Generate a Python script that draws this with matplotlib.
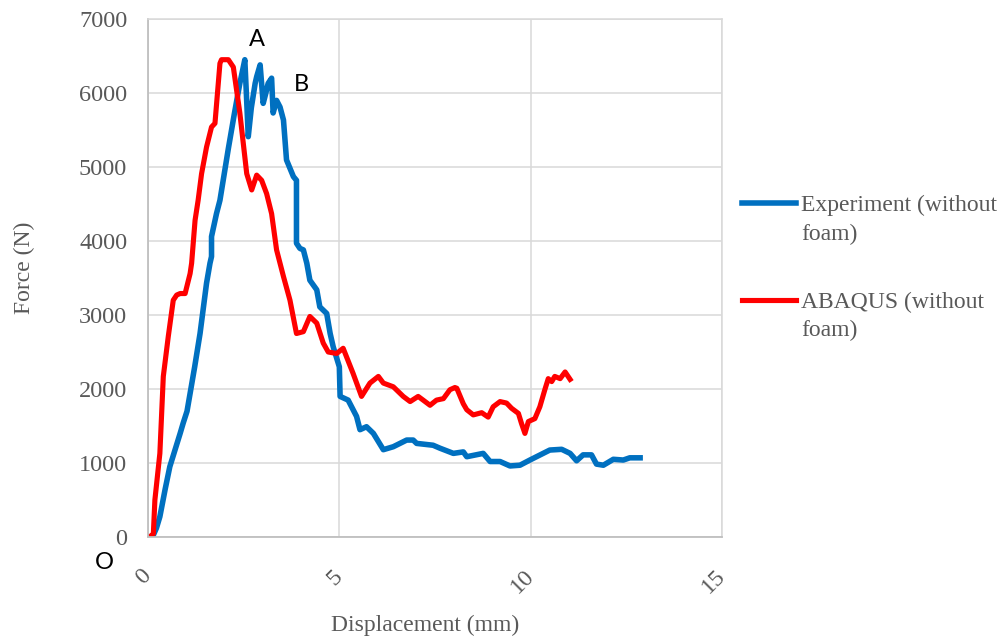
import numpy as np
import matplotlib.pyplot as plt
from matplotlib.legend_handler import HandlerLine2D

# Experiment (without foam) - displacement (mm), force (N)
exp_x = [0, 0.08, 0.14, 0.22, 0.31, 0.45, 0.57, 0.72, 0.84, 0.92,
         1.02, 1.10, 1.22, 1.36, 1.53, 1.62, 1.66, 1.66, 1.79, 1.88,
         2.10, 2.25, 2.40, 2.47, 2.53, 2.57, 2.62, 2.70, 2.80, 2.84,
         2.93, 3.01, 3.08, 3.14, 3.23, 3.27, 3.36, 3.45, 3.54, 3.62,
         3.80, 3.88, 3.88, 3.97, 4.06, 4.15, 4.23, 4.41, 4.49, 4.67,
         4.76, 4.84, 5.00, 5.02, 5.23, 5.45, 5.54, 5.71, 5.89, 6.15,
         6.41, 6.76, 6.93, 7.02, 7.45, 7.63, 7.98, 8.24, 8.33, 8.76,
         8.94, 9.20, 9.46, 9.72, 9.98, 10.50, 10.81, 11.03, 11.20, 11.37,
         11.59, 11.72, 11.90, 12.16, 12.42, 12.59, 12.86]
exp_y = [0, 0, 27, 120, 275, 650, 950, 1200, 1400, 1540,
         1700, 1940, 2300, 2750, 3430, 3700, 3790, 4060, 4370, 4550,
         5250, 5700, 6130, 6300, 6450, 6000, 5410, 5800, 6130, 6220,
         6380, 5860, 6000, 6130, 6200, 5730, 5900, 5810, 5635, 5095,
         4870, 4820, 3970, 3900, 3880, 3700, 3470, 3340, 3110, 3020,
         2750, 2570, 2300, 1900, 1850, 1630, 1450, 1490, 1400, 1180,
         1220, 1310, 1310, 1265, 1240, 1200, 1130, 1150, 1085, 1130,
         1020, 1020, 960, 970, 1040, 1175, 1185, 1130, 1030, 1110,
         1110, 985, 970, 1050, 1040, 1070, 1070]

# ABAQUS (without foam)
fem_x = [0, 0.10, 0.14, 0.18, 0.31, 0.40, 0.53, 0.66, 0.75, 0.84,
         0.97, 1.10, 1.14, 1.23, 1.31, 1.40, 1.53, 1.66, 1.75, 1.88,
         1.92, 2.10, 2.23, 2.40, 2.58, 2.71, 2.84, 2.97, 3.10, 3.23,
         3.36, 3.54, 3.71, 3.88, 4.06, 4.23, 4.41, 4.58, 4.71, 4.93,
         5.10, 5.36, 5.58, 5.80, 6.02, 6.15, 6.41, 6.67, 6.85, 7.06,
         7.19, 7.37, 7.54, 7.72, 7.89, 8.02, 8.07, 8.24, 8.33, 8.50,
         8.72, 8.89, 9.02, 9.20, 9.37, 9.50, 9.68, 9.76, 9.85, 9.94,
         10.11, 10.24, 10.37, 10.46, 10.55, 10.63, 10.77, 10.90, 11.03]
fem_y = [0, 20, 45, 500, 1130, 2170, 2710, 3200, 3270, 3290,
         3290, 3560, 3700, 4280, 4550, 4910, 5270, 5540, 5590, 6400,
         6450, 6450, 6350, 5730, 4910, 4690, 4890, 4820, 4640, 4370,
         3880, 3520, 3200, 2750, 2775, 2980, 2890, 2620, 2500, 2480,
         2550, 2210, 1900, 2080, 2170, 2080, 2030, 1900, 1830, 1900,
         1850, 1780, 1850, 1870, 1990, 2020, 2010, 1800, 1720, 1650,
         1680, 1620, 1760, 1830, 1810, 1740, 1670, 1535, 1400, 1560,
         1600, 1760, 1990, 2140, 2100, 2170, 2140, 2230, 2130]

x_ticks = [0, 5, 10, 15]
y_ticks = [0, 1000, 2000, 3000, 4000, 5000, 6000, 7000]
point_labels = ['A', 'B', 'O']
point_pos = [(2.85, 6720), (4.02, 6120), (-1.15, -350)]

grey = '#595959'
serif = 'Liberation Serif'


class FirstLineHandler(HandlerLine2D):
    # put the legend line level with the first line of a two-line label
    def create_artists(self, legend, orig_handle, xdescent, ydescent,
                       width, height, fontsize, trans):
        arts = super().create_artists(legend, orig_handle, xdescent, ydescent,
                                      width, height, fontsize, trans)
        for a in arts:
            yd = np.asarray(a.get_ydata(), dtype=float)
            a.set_ydata(yd + 0.70 * fontsize)
        return arts


fig = plt.figure(figsize=(10.06, 6.36), dpi=100)
ax = fig.add_axes([148 / 1006, 1 - 537 / 636, 574 / 1006, 518 / 636])

ax.plot(exp_x, exp_y, color='#0070C0', lw=4.0, solid_joinstyle='round',
        label='Experiment (without\nfoam)')
ax.plot(fem_x, fem_y, color='#FF0000', lw=3.7, solid_joinstyle='round',
        label='ABAQUS (without\nfoam)')

ax.set_xlim(0, 15)
ax.set_ylim(0, 7000)
ax.set_xticks(x_ticks)
ax.set_yticks(y_ticks)
ax.set_xticklabels([str(v) for v in x_ticks], rotation=45, ha='right', va='center',
                   rotation_mode='anchor', family=serif, fontsize=17.5, color=grey)
ax.set_yticklabels([str(v) for v in y_ticks], family=serif, fontsize=17.5, color=grey)
ax.tick_params(axis='both', length=0)
ax.tick_params(axis='x', pad=26)
ax.tick_params(axis='y', pad=15)

ax.grid(True, color='#D9D9D9', lw=1.1)
ax.set_axisbelow(True)
for s in ['top', 'right']:
    ax.spines[s].set_color('#D9D9D9')
    ax.spines[s].set_linewidth(1.1)
for s in ['left', 'bottom']:
    ax.spines[s].set_color('#BFBFBF')
    ax.spines[s].set_linewidth(1.3)

ax.set_xlabel('Displacement (mm)', family=serif, fontsize=17, color=grey,
              va='center', ha='center')
ax.set_ylabel('Force (N)', family=serif, fontsize=17, color=grey,
              va='center', ha='center')
ax.xaxis.set_label_coords(0.483, -0.17)
ax.yaxis.set_label_coords(-0.215, 0.52)

for lab, (px, py) in zip(point_labels, point_pos):
    ax.text(px, py, lab, family='Lato', fontsize=17, ha='center', va='center',
            color='black', clip_on=False)

leg = ax.legend(loc='upper left', bbox_to_anchor=(742 / 1006, 1 - 195 / 636),
                bbox_transform=fig.transFigure, frameon=False,
                prop={'family': serif, 'size': 17}, labelcolor=grey,
                handlelength=2.3, handletextpad=0.2, labelspacing=2.0,
                borderpad=0, borderaxespad=0,
                handler_map={plt.Line2D: FirstLineHandler()})
for t in leg.get_texts():
    t.set_linespacing(1.45)

fig.savefig('out.png', dpi=100)
